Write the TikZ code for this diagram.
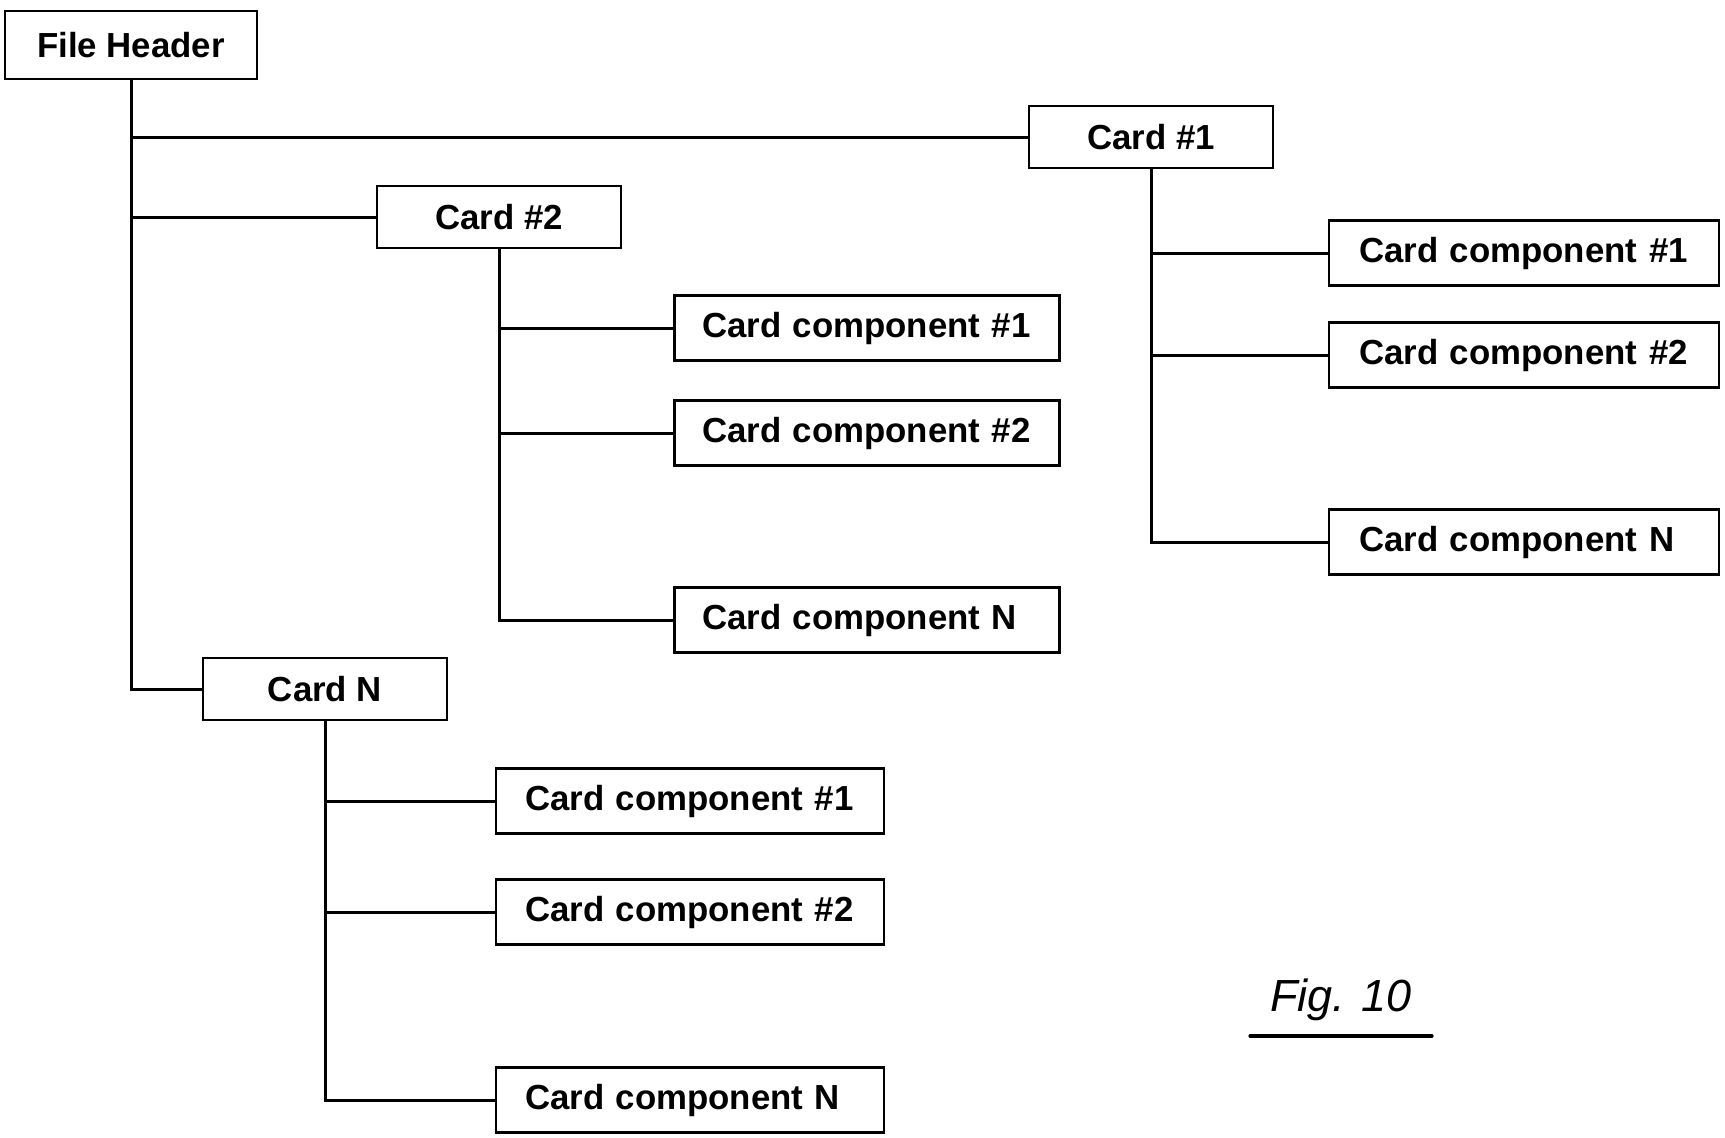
\documentclass[tikz,border=0pt]{standalone}
\usepackage{fontspec}
\setmainfont{Liberation Sans}
\begin{document}
\begin{tikzpicture}[x=0.5pt,y=-0.5pt,
  every node/.style={font=\bfseries\fontsize{17.4}{20}\selectfont},
  hdrbox/.style={draw,line width=1.4pt,minimum width=126pt,minimum height=34pt,inner sep=0pt},
  cardbox/.style={draw,line width=1.4pt,minimum width=122pt,minimum height=31pt,inner sep=0pt},
  compbox/.style={draw,line width=1.4pt,text width=165pt,align=left,inner xsep=15pt,inner ysep=0pt,minimum height=32.5pt},
  link/.style={line width=1.5pt}]
\useasboundingbox (0,0) rectangle (1725,1137);
\node[hdrbox] (fh) at (131,45) {File Header};
\node[cardbox] (c1) at (1151,137) {Card \#1};
\node[cardbox] (c2) at (499,217) {Card \#2};
\node[cardbox] (cN) at (325,689) {Card N};
% Card #2 components
\node[compbox,inner xsep=13.75pt] (c2a) at (867,328) {Card component \#1};
\node[compbox,inner xsep=13.75pt] (c2b) at (867,433) {Card component \#2};
\node[compbox,inner xsep=13.75pt] (c2n) at (867,620) {Card component N};
% Card #1 components
\node[compbox] (c1a) at (1524,253) {Card component \#1};
\node[compbox] (c1b) at (1524,355) {Card component \#2};
\node[compbox] (c1n) at (1524,542) {Card component N};
% Card N components
\node[compbox,inner xsep=14.5pt] (cNa) at (690,801) {Card component \#1};
\node[compbox,inner xsep=14.5pt] (cNb) at (690,912) {Card component \#2};
\node[compbox,inner xsep=14.5pt] (cNn) at (690,1100) {Card component N};
% trunk
\draw[link] (fh.south) |- (cN.west);
\draw[link] (fh.south |- c1.west) -- (c1.west);
\draw[link] (fh.south |- c2.west) -- (c2.west);
% card #2
\draw[link] (c2.south) |- (c2n.west);
\draw[link] (c2.south |- c2a.west) -- (c2a.west);
\draw[link] (c2.south |- c2b.west) -- (c2b.west);
% card #1
\draw[link] (c1.south) |- (c1n.west);
\draw[link] (c1.south |- c1a.west) -- (c1a.west);
\draw[link] (c1.south |- c1b.west) -- (c1b.west);
% card N
\draw[link] (cN.south) |- (cNn.west);
\draw[link] (cN.south |- cNa.west) -- (cNa.west);
\draw[link] (cN.south |- cNb.west) -- (cNb.west);
% figure label
\node[font=\itshape\fontsize{22.5}{26}\selectfont] (fig) at (1341,1000) {Fig. 10};
\coordinate (ulA) at (1250,1036);
\coordinate (ulB) at (1432,1036);
\draw[line width=1.6pt,line cap=round] (ulA) -- (ulB);
\end{tikzpicture}
\end{document}
